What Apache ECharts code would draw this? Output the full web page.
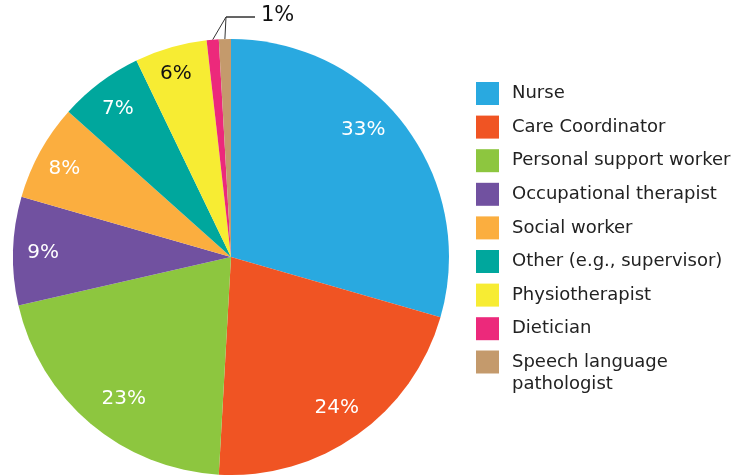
<!DOCTYPE html>
<html>
<head>
<meta charset="utf-8">
<script src="https://cdn.jsdelivr.net/npm/echarts@6/dist/echarts.min.js"></script>
<style>
  html, body { margin: 0; padding: 0; background: #fff; }
  #chart { width: 754px; height: 475px; }
</style>
</head>
<body>
<div id="chart"></div>
<script>
var roles = ['Nurse', 'Care Coordinator', 'Personal support worker', 'Occupational therapist',
  'Social worker', 'Other (e.g., supervisor)', 'Physiotherapist', 'Dietician', 'Speech language pathologist'];
var shares = [33, 24, 23, 9, 8, 7, 6, 1, 1];
var colors = ['#29a9e0', '#f05423', '#8dc63f', '#7151a0', '#fbae3f', '#00a79d', '#f7ec33', '#ec297b', '#c49a6c'];
var labelColors = ['#fff', '#fff', '#fff', '#fff', '#fff', '#fff', '#111', '#111', '#111'];
// small nudges so the % labels sit where the original put them
var labelOffsets = [[-18, -14], [-3, -3], [14, -2], [0, 1], [-2, 3], [0, 2], [-3, -3], [0, 0], [0, 0]];

var FONT = 'DejaVu Sans';
var CENTER = [231, 257];
var R = 218;
var NOTE_X = 261, NOTE_Y = 16;   // shared "1%" note above the pie

// main slices; only the two tiny ones get an outside label
var mainData = roles.map(function (r, i) {
  var d = { name: r, value: shares[i], itemStyle: { color: colors[i] } };
  if (shares[i] <= 1) {
    d.label = { show: true, position: 'outside', formatter: i === roles.length - 1 ? '{c}%' : ' ' };
    d.labelLine = { show: true, length: 18, length2: 14 };
  }
  return d;
});
// transparent ring only used to put the % labels near the rim
var labelData = roles.map(function (r, i) {
  return {
    name: r, value: shares[i],
    label: { show: shares[i] > 1, color: labelColors[i], offset: labelOffsets[i] }
  };
});

var lastRole = roles[roles.length - 1];
var legendText = { fontFamily: FONT, fontSize: 18, color: '#222', lineHeight: 22, padding: [0, 0, 0, 8] };

var myChart = echarts.init(document.getElementById('chart'));
var option = {
  animation: false,
  legend: [{
    orient: 'vertical',
    left: 476,
    top: 82,
    padding: 0,
    itemWidth: 23,
    itemHeight: 23,
    itemGap: 10.6,
    icon: 'rect',
    data: roles.slice(0, roles.length - 1),
    textStyle: legendText
  }, {
    // last entry wraps on two lines, first line level with the swatch
    orient: 'vertical',
    left: 476,
    top: 329,
    padding: 0,
    itemWidth: 23,
    itemHeight: 23,
    icon: 'rect',
    data: [lastRole],
    formatter: function () { return '\nSpeech language\npathologist'; },
    textStyle: legendText
  }],
  series: [{
    type: 'pie',
    center: CENTER,
    radius: [0, R],
    startAngle: 90,
    clockwise: true,
    avoidLabelOverlap: false,
    data: mainData,
    label: { show: false, fontFamily: FONT, fontSize: 21, color: '#111' },
    labelLine: { lineStyle: { color: '#333', width: 1 } },
    labelLayout: function (p) {
      if (p.dataIndex < 7) return;
      // leader from the slice rim up to a common elbow, then across to the note
      var tip = p.labelLinePoints ? p.labelLinePoints[0] : [p.rect.x, p.rect.y];
      var elbowX = NOTE_X - 35;
      return {
        x: NOTE_X, y: NOTE_Y, align: 'left', verticalAlign: 'middle',
        labelLinePoints: [[tip[0], tip[1]], [elbowX, NOTE_Y + 1], [NOTE_X - 6, NOTE_Y + 1]]
      };
    }
  }, {
    type: 'pie',
    silent: true,
    center: CENTER,
    radius: [152, R],
    startAngle: 90,
    clockwise: true,
    avoidLabelOverlap: false,
    itemStyle: { color: 'transparent' },
    label: { position: 'inside', formatter: '{c}%', fontFamily: FONT, fontSize: 20 },
    labelLine: { show: false },
    data: labelData
  }]
};
myChart.setOption(option);
</script>
</body>
</html>
